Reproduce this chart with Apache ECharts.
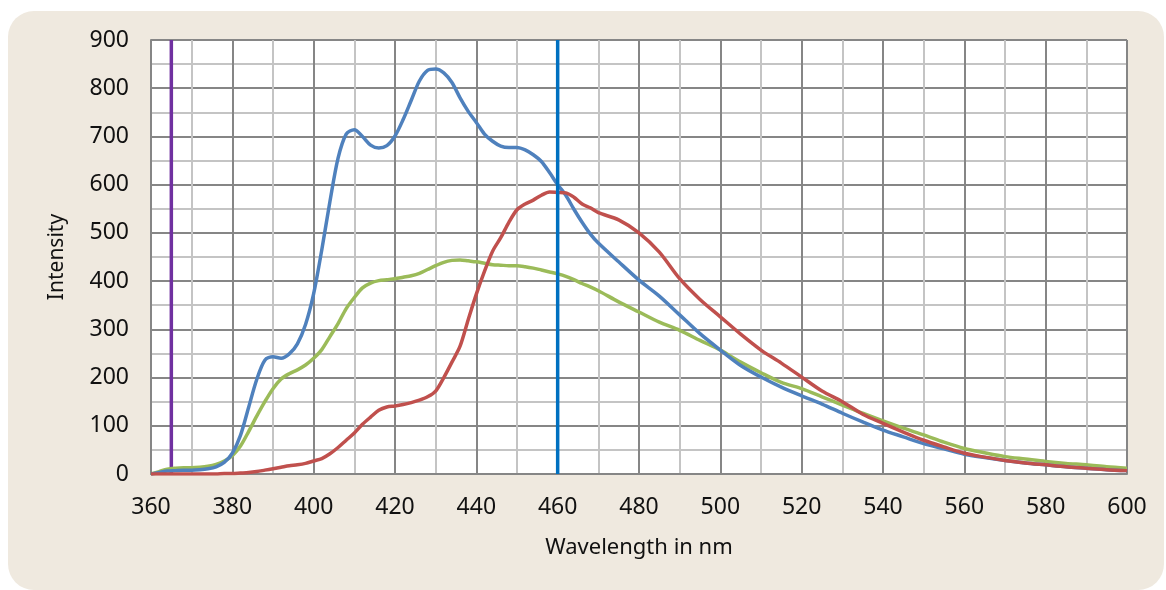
<!DOCTYPE html>
<html>
<head>
<meta charset="utf-8">
<script src="https://cdn.jsdelivr.net/npm/echarts@6/dist/echarts.min.js"></script>
<style>
html,body{margin:0;padding:0;background:#fff;}
#chart{width:1166px;height:590px;}
</style>
</head>
<body>
<div id="chart"></div>
<script>
const wavelengths = [360,362,364,366,368,370,372,374,376,378,380,382,384,386,388,390,392,394,396,398,400,402,404,406,408,410,412,414,416,418,420,422,424,426,428,430,432,434,436,438,440,442,444,446,448,450,452,454,456,458,460,462,464,466,468,470,475,480,485,490,495,500,505,510,515,520,525,530,535,540,545,550,555,560,565,570,575,580,585,590,595,600];
const blueSpectrum = [0,3,6,7,8,8,9,11,15,24,43,80,138,196,236,243,240,249,270,310,374,465,565,655,705,714,700,682,676,681,701,735,775,815,837,840,832,812,780,752,729,705,690,680,677,677,672,662,648,625,600,578,549,522,498,479,440,402,369,330,291,257,225,201,180,162,145,126,108,91,77,63,52,41,34,28,23,19,15,12,9,7];
const greenSpectrum = [0,5,10,12,13,13,14,16,20,27,38,58,88,120,150,177,197,208,216,226,240,258,285,312,343,366,386,396,401,403,405,408,411,416,424,432,439,443,444,442,440,437,434,433,432,432,430,427,423,419,415,410,403,395,388,380,357,336,315,298,277,257,232,210,190,177,160,143,126,110,95,81,66,53,44,36,31,26,22,19,15,12];
const redSpectrum = [0,0,0,0,0,0,0,0,0,1,1,2,3,5,8,11,14,17,19,22,27,32,42,55,70,85,103,118,132,139,141,144,148,153,160,172,200,232,265,320,373,420,462,490,522,548,560,568,578,585,584,583,574,560,552,542,527,500,460,405,362,326,290,257,230,201,172,150,124,105,87,70,56,43,35,28,23,19,15,12,9,7];
const excitationLine = 365;
const markerLine = 460;
const xMin = 360, xMax = 600, xStep = 20;
const yMin = 0, yMax = 900, yStep = 100;

const pairs = arr => wavelengths.map((w, i) => [w, arr[i]]);
const font = 'Noto Sans';

const chart = echarts.init(document.getElementById('chart'));
chart.setOption({
  backgroundColor: '#ffffff',
  animation: false,
  graphic: [{
    type: 'rect', z: -10, silent: true,
    shape: {x: 8, y: 11, width: 1156, height: 579, r: 26},
    style: {fill: '#EFE9DF'}
  }],
  grid: {left: 151, right: 39, top: 40, bottom: 116, show: true, backgroundColor: '#ffffff', borderWidth: 0},
  xAxis: {
    type: 'value', min: xMin, max: xMax, interval: xStep,
    name: 'Wavelength in nm', nameLocation: 'middle', nameGap: 63,
    nameTextStyle: {fontFamily: font, fontSize: 22, color: '#111'},
    axisLine: {show: true, lineStyle: {color: '#868686', width: 2}},
    axisTick: {show: false},
    axisLabel: {fontFamily: font, fontSize: 23, color: '#111', margin: 22},
    splitLine: {show: true, lineStyle: {color: '#868686', width: 2}},
    minorTick: {show: false, splitNumber: 2},
    minorSplitLine: {show: true, lineStyle: {color: '#C4C4C4', width: 2}}
  },
  yAxis: {
    type: 'value', min: yMin, max: yMax, interval: yStep,
    name: 'Intensity', nameLocation: 'middle', nameGap: 83,
    nameTextStyle: {fontFamily: font, fontSize: 21, color: '#111'},
    axisLine: {show: true, lineStyle: {color: '#868686', width: 2}},
    axisTick: {show: false},
    axisLabel: {fontFamily: font, fontSize: 23, color: '#111', margin: 22},
    splitLine: {show: true, lineStyle: {color: '#868686', width: 2}},
    minorTick: {show: false, splitNumber: 2},
    minorSplitLine: {show: true, lineStyle: {color: '#C4C4C4', width: 2}}
  },
  series: [
    {type: 'line', data: [[excitationLine, yMin], [excitationLine, yMax]], symbol: 'none', lineStyle: {color: '#7030A0', width: 3.5}, z: 3},
    {type: 'line', data: [[markerLine, yMin], [markerLine, yMax]], symbol: 'none', lineStyle: {color: '#0070C0', width: 3.5}, z: 6},
    {type: 'line', data: pairs(greenSpectrum), symbol: 'none', smooth: 0.3, lineStyle: {color: '#9BBB59', width: 3.5}, z: 4},
    {type: 'line', data: pairs(blueSpectrum), symbol: 'none', smooth: 0.3, lineStyle: {color: '#4F81BD', width: 3.5}, z: 5},
    {type: 'line', data: pairs(redSpectrum), symbol: 'none', smooth: 0.3, lineStyle: {color: '#C0504D', width: 3.5}, z: 5}
  ]
});
</script>
</body>
</html>
